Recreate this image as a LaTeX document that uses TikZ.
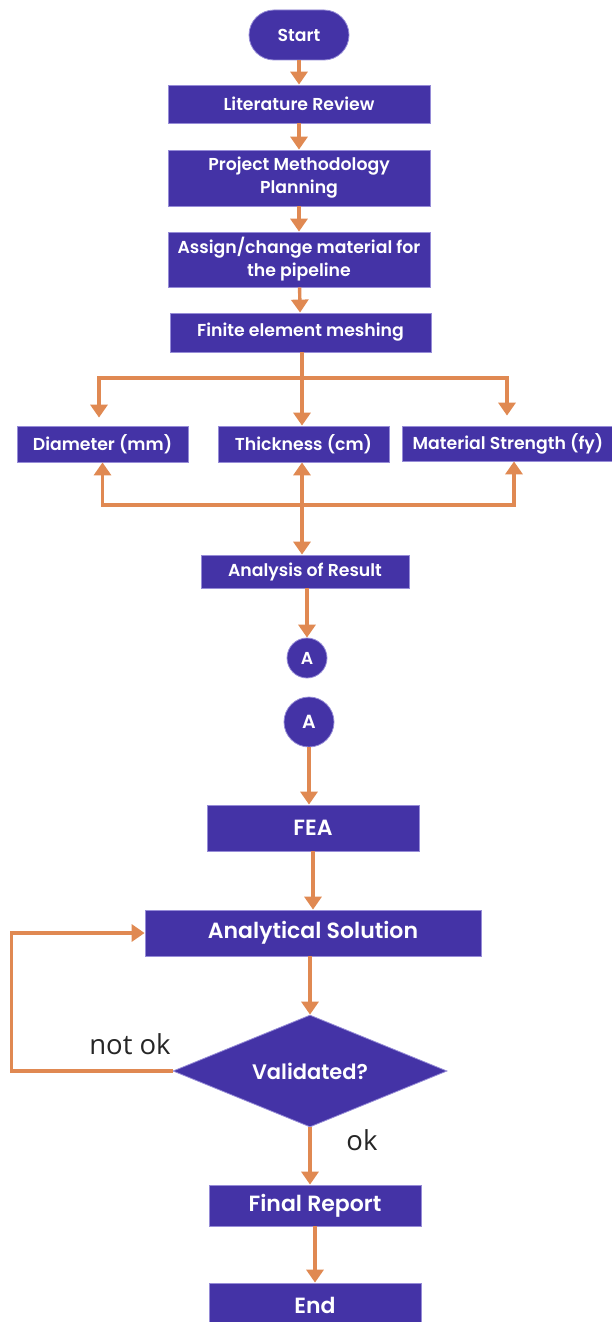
\documentclass[tikz,border=0pt]{standalone}
\usepackage{fontspec}
\setmainfont{Poppins}[BoldFont={* SemiBold}]
\newfontfamily\lblfont{Open Sans}
\usetikzlibrary{arrows.meta,shapes.geometric,calc}
\definecolor{boxfill}{RGB}{68,51,166}
\definecolor{boxline}{RGB}{150,140,215}
\definecolor{arrcol}{RGB}{224,137,82}
\tikzset{
  box/.style={draw=boxline, line width=0.8pt, fill=boxfill, text=white, font=\bfseries\fontsize{17.3}{23}\selectfont, inner sep=0pt, align=center},
  bigbox/.style={box, font=\bfseries\fontsize{22}{26}\selectfont},
  link/.style={draw=arrcol, line width=3.4pt},
  arr/.style={link, -{Triangle[length=13pt,width=17pt]}},
  darr/.style={link, {Triangle[length=13pt,width=17pt]}-{Triangle[length=13pt,width=17pt]}},
  lbl/.style={font=\lblfont\fontsize{27.5}{30}\selectfont, text=black!85}
}
\begin{document}
\begin{tikzpicture}[x=1pt,y=-1pt]
\useasboundingbox (0,0) rectangle (611,1322);
\fill[white] (0,0) rectangle (611,1322);
% nodes
\node[box, rounded corners=25pt, minimum width=100pt, minimum height=50pt] (start) at (299,35) {Start};
\node[box, minimum width=262pt, minimum height=38pt] (lit) at (299,104) {Literature Review};
\node[box, minimum width=262pt, minimum height=56pt] (pmp) at (299,178) {Project Methodology\\Planning};
\node[box, minimum width=262pt, minimum height=55pt] (asg) at (299,259.5) {Assign/change material for\\the pipeline};
\node[box, minimum width=261pt, minimum height=39pt] (mesh) at (300.5,332.5) {Finite element meshing};
\node[box, minimum width=171pt, minimum height=36pt] (diam) at (102.5,444) {Diameter (mm)};
\node[box, minimum width=171pt, minimum height=36pt] (thick) at (303.5,444) {Thickness (cm)};
\node[box, minimum width=212pt, minimum height=35pt] (mat) at (508,443.5) {Material Strength (fy)};
\node[box, minimum width=208pt, minimum height=33pt] (res) at (305,571.5) {Analysis of Result};
\node[box, circle, minimum size=40pt] (a1) at (307,658) {A};
\node[box, circle, minimum size=50pt, font=\bfseries\fontsize{19}{22}\selectfont] (a2) at (309,722) {A};
\node[bigbox, minimum width=212pt, minimum height=46pt] (fea) at (313,828) {FEA};
\node[bigbox, minimum width=336pt, minimum height=46pt] (anas) at (313,933) {Analytical Solution};
\node[box, diamond, aspect=2.45, minimum width=274pt, minimum height=112pt, font=\bfseries\fontsize{21}{24}\selectfont] (val) at (310,1071) {Validated?};
\node[bigbox, minimum width=212pt, minimum height=41pt] (fin) at (315,1205.5) {Final Report};
\node[bigbox, minimum width=212pt, minimum height=44pt] (end) at (315,1305) {End};
% labels
\node[lbl] (notok) at (130,1044) {not ok};
\node[lbl] (ok) at (362,1140) {ok};
% connectors
\draw[arr] (start) -- (lit);
\draw[arr] (lit) -- (pmp);
\draw[arr] (pmp) -- (asg);
\draw[arr] (asg) -- (mesh);
\coordinate (br) at (302,378);
\draw[link] (mesh.south -| br) -- (br);
\draw[arr] (br) -- (thick.north -| br);
\draw[arr] (br) -| ([yshift=8pt]diam.north -| 99,0);
\draw[arr] (br) -| ([yshift=10pt]mat.north -| 507,0);
\coordinate (jn) at (302,505);
\draw[darr] (thick.south -| jn) -- (res.north -| jn);
\draw[arr] (jn) -| (diam.south);
\draw[arr] (jn) -| (mat.south -| 514,0);
\draw[arr] (res.south -| a1) -- (a1);
\draw[arr] (a2) -- (fea.north -| a2);
\draw[arr] (fea) -- (anas);
\draw[arr] (anas.south -| val) -- (val.north);
\draw[arr] (val.west) -- ++(-161,0) |- (anas.west);
\draw[arr] (val.south) -- (fin.north -| val.south);
\draw[arr] (fin) -- (end);
\end{tikzpicture}
\end{document}
